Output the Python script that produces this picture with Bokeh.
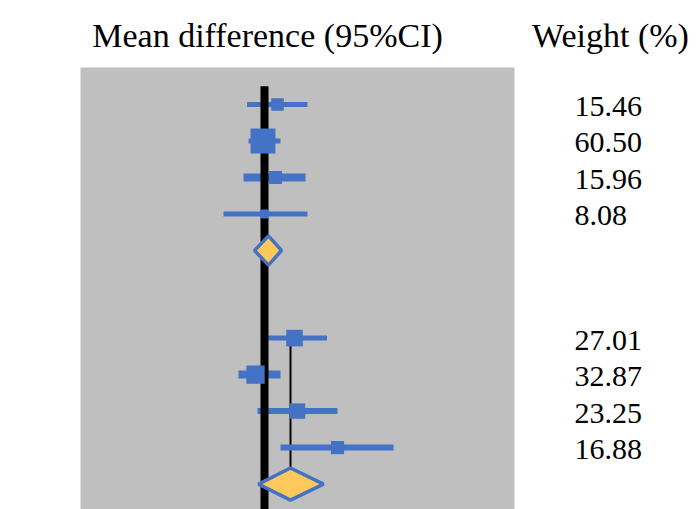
from bokeh.plotting import figure
from bokeh.models import Range1d, BoxAnnotation, ColumnDataSource
from bokeh.core.properties import value
from bokeh.embed import file_html
from bokeh.resources import INLINE
import numpy as np

# ---------------- data ----------------
# Group 1 studies
g1_mean = [0.26, -0.03, 0.22, 0.00]
g1_lower = [-0.35, -0.32, -0.42, -0.82]
g1_upper = [0.86, 0.32, 0.82, 0.86]
g1_weight = [15.46, 60.50, 15.96, 8.08]
g1_pooled = [0.08, -0.20, 0.34]  # mean, lower, upper

# Group 2 studies
g2_mean = [0.60, -0.18, 0.66, 1.46]
g2_lower = [0.03, -0.52, -0.14, 0.32]
g2_upper = [1.25, 0.32, 1.46, 2.58]
g2_weight = [27.01, 32.87, 23.25, 16.88]
g2_pooled = [0.52, -0.12, 1.18]

header_effect = "Mean difference (95%CI)"
header_weight = "Weight (%)"

# ---------------- layout (row positions, styles) ----------------
g1_rows = [1, 2, 3, 4]
g1_diamond_row = 5
g2_rows = [7.4, 8.4, 9.4, 10.4]
g2_diamond_row = 11.4
ci_widths_g1 = [5, 5, 8, 5]
ci_widths_g2 = [5, 8, 6, 6]

BLUE = "#4472C4"
GOLD = "#FFC85A"
GRAY = "#BFBFBF"
FONT = "Liberation Serif"

W, H = 697, 509
p = figure(width=W, height=H, output_backend="svg", toolbar_location=None,
           x_range=Range1d(-5.28, 8.66), y_range=Range1d(12.096, -1.849),
           x_axis_type=None, y_axis_type=None, min_border=0)
p.grid.visible = False
p.outline_line_color = None
p.background_fill_color = "white"
p.border_fill_color = "white"

# gray plot panel
p.add_layout(BoxAnnotation(left=-3.68, right=5.0, top=-0.01, fill_color=GRAY,
                           fill_alpha=1.0, line_alpha=0, level="underlay"))

mean_all = g1_mean + g2_mean
lower_all = g1_lower + g2_lower
upper_all = g1_upper + g2_upper
weight_all = g1_weight + g2_weight
rows_all = g1_rows + g2_rows
ci_w = ci_widths_g1 + ci_widths_g2
sizes = [3.2 * np.sqrt(w) for w in weight_all]

# thin pooled reference line for group 2
p.segment(x0=[g2_pooled[0]], y0=[g2_rows[0]], x1=[g2_pooled[0]], y1=[g2_diamond_row],
          line_color="black", line_width=2)

# confidence intervals
src = ColumnDataSource(dict(m=mean_all, lo=lower_all, hi=upper_all, y=rows_all,
                            lw=ci_w, s=sizes,
                            lab=[f"{w:.2f}" for w in weight_all]))
p.segment(x0="lo", y0="y", x1="hi", y1="y", line_width="lw", line_color=BLUE, source=src)

# line of no effect
p.segment(x0=[0], y0=[0.5], x1=[0], y1=[12.2], line_color="black", line_width=8)

# study squares
p.scatter(x="m", y="y", size="s", marker="square", fill_color=BLUE, line_color=BLUE,
          line_width=0, source=src)

# pooled diamonds
def diamond(pooled, row, half_h):
    m, lo, hi = pooled
    return [lo, m, hi, m], [row, row - half_h, row, row + half_h]

d1x, d1y = diamond(g1_pooled, g1_diamond_row, 0.40)
d2x, d2y = diamond(g2_pooled, g2_diamond_row, 0.44)
p.patches(xs=[d1x, d2x], ys=[d1y, d2y], fill_color=GOLD, line_color=BLUE, line_width=3.5)

# weights column
p.text(x=6.2, y="y", text="lab", source=src, text_font=value(FONT),
       text_font_size="30px", text_color="black", text_baseline="middle",
       text_align="left", y_offset=2)

# headers
p.text(x=[0.06], y=[-0.9], text=[header_effect], text_font=value(FONT),
       text_font_size="34px", text_color="black", text_baseline="alphabetic",
       text_align="center")
p.text(x=[6.92], y=[-0.88], text=[header_weight], text_font=value(FONT),
       text_font_size="34px", text_color="black", text_baseline="alphabetic",
       text_align="center")

open("out.html", "w").write(file_html(p, INLINE))
